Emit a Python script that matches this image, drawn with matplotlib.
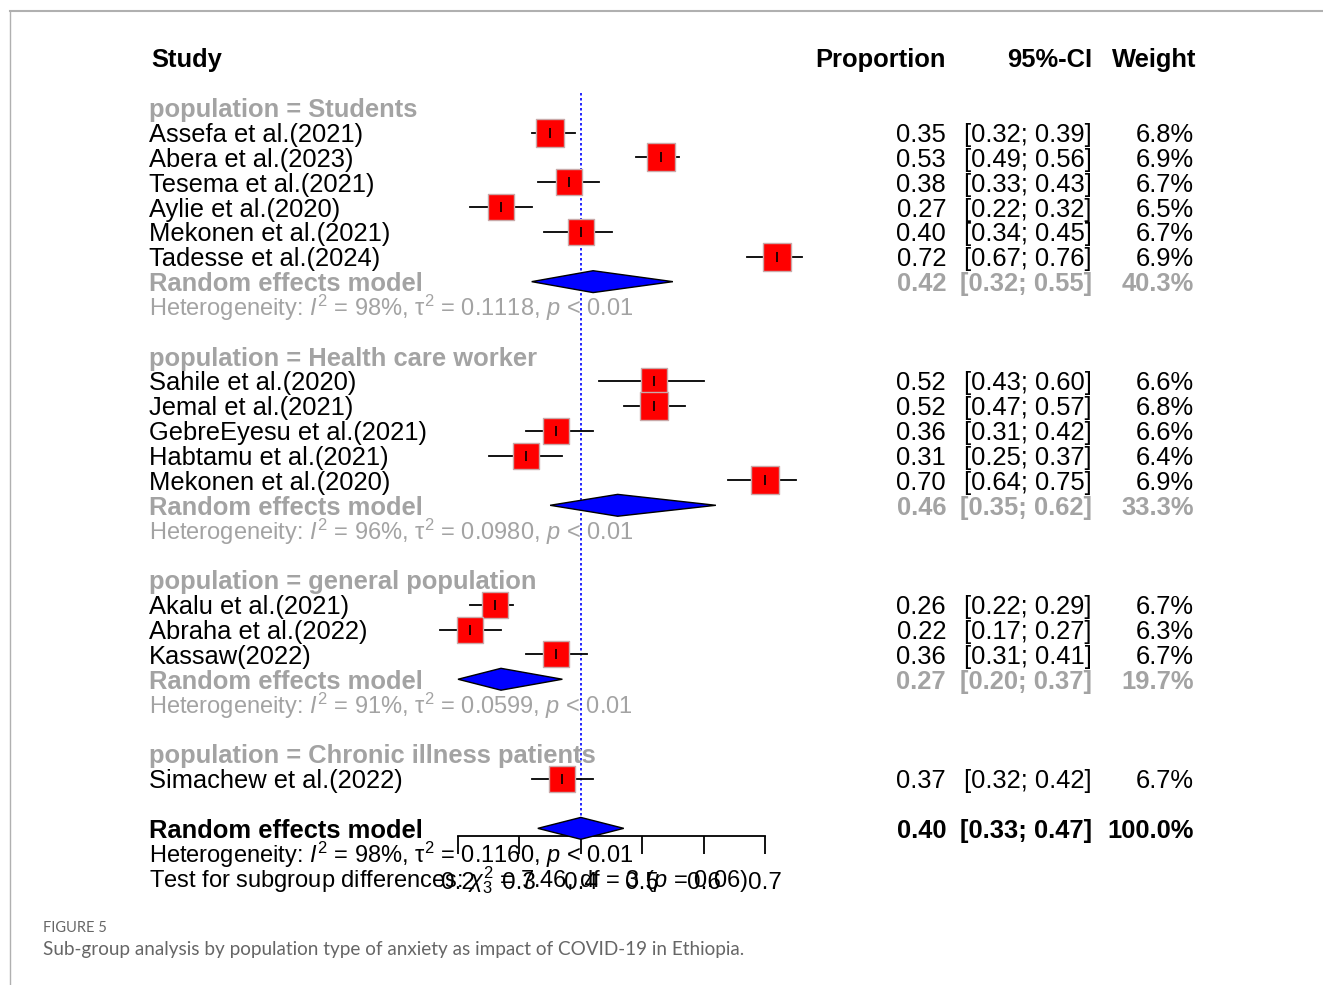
import matplotlib
matplotlib.use("Agg")
import matplotlib.pyplot as plt
from matplotlib.patches import Polygon
from matplotlib.lines import Line2D
import matplotlib.transforms as mtransforms

plt.rcParams['font.family'] = ['Liberation Sans', 'DejaVu Sans']
plt.rcParams['mathtext.fontset'] = 'custom'
plt.rcParams['mathtext.rm'] = 'Liberation Sans'
plt.rcParams['mathtext.it'] = 'Liberation Sans:italic'
plt.rcParams['mathtext.bf'] = 'Liberation Sans:bold'

# --- data ---
group_names = ["Students", "Health care worker", "general population",
               "Chronic illness patients"]

study = ["Assefa et al.(2021)", "Abera et al.(2023)", "Tesema et al.(2021)",
         "Aylie et al.(2020)", "Mekonen et al.(2021)", "Tadesse et al.(2024)",
         "Sahile et al.(2020)", "Jemal et al.(2021)", "GebreEyesu et al.(2021)",
         "Habtamu et al.(2021)", "Mekonen et al.(2020)",
         "Akalu et al.(2021)", "Abraha et al.(2022)", "Kassaw(2022)",
         "Simachew et al.(2022)"]
study_group = [0, 0, 0, 0, 0, 0, 1, 1, 1, 1, 1, 2, 2, 2, 3]
prop = [0.35, 0.53, 0.38, 0.27, 0.40, 0.72,
        0.52, 0.52, 0.36, 0.31, 0.70,
        0.26, 0.22, 0.36,
        0.37]
ci_lo = [0.32, 0.49, 0.33, 0.22, 0.34, 0.67,
         0.43, 0.47, 0.31, 0.25, 0.64,
         0.22, 0.17, 0.31,
         0.32]
ci_hi = [0.39, 0.56, 0.43, 0.32, 0.45, 0.76,
         0.60, 0.57, 0.42, 0.37, 0.75,
         0.29, 0.27, 0.41,
         0.42]
weight = [6.8, 6.9, 6.7, 6.5, 6.7, 6.9,
          6.6, 6.8, 6.6, 6.4, 6.9,
          6.7, 6.3, 6.7,
          6.7]

# subgroup random effects (no pooled row for a single-study group)
sub_est = [0.42, 0.46, 0.27, None]
sub_lo = [0.32, 0.35, 0.20, None]
sub_hi = [0.55, 0.62, 0.37, None]
sub_w = [40.3, 33.3, 19.7, None]
sub_i2 = [98, 96, 91, None]
sub_tau2 = ["0.1118", "0.0980", "0.0599", None]

overall_est, overall_lo, overall_hi = 0.40, 0.33, 0.47
overall_i2, overall_tau2 = 98, "0.1160"
test_chi2, test_df, test_p = "7.46", 3, "0.06"

x_ticks = [0.2, 0.3, 0.4, 0.5, 0.6, 0.7]

# --- layout ---
W, H = 1323, 985
fig = plt.figure(figsize=(W / 100, H / 100), dpi=100)
row_px0, row_dy = 58.0, 24.85
top_r, bot_r = -1, 35
x0_px, x1_px = 458, 765
ax = fig.add_axes([x0_px / W, 1 - (row_px0 + row_dy * bot_r) / H,
                   (x1_px - x0_px) / W, row_dy * (bot_r - top_r) / H])
ax.set_xlim(0.2, 0.7)
ax.set_ylim(bot_r, top_r)
ax.patch.set_alpha(0)

trans = mtransforms.blended_transform_factory(fig.transFigure, ax.transData)
FS = 18.4
FS_HET = 17
GRAY = '#a3a3a3'
BASE = 0.38  # baseline offset in rows

def put(xpx, r, s, ha='left', color='black', weight='normal', size=FS):
    ax.text(xpx / W, r + BASE, s, transform=trans, ha=ha, va='baseline',
            color=color, fontweight=weight, fontsize=size, clip_on=False)

def row_values(r, est, lo, hi, w, color='black', weight='normal'):
    put(946, r, f"{est:.2f}", ha='right', color=color, weight=weight)
    put(1092, r, f"[{lo:.2f}; {hi:.2f}]", ha='right', color=color, weight=weight)
    put(1194, r, f"{w:.1f}%", ha='right', color=color, weight=weight)

def diamond(r, est, lo, hi):
    ax.add_patch(Polygon([(lo, r), (est, r - 0.44), (hi, r), (est, r + 0.44)],
                         closed=True, facecolor='#0000ff', edgecolor='black',
                         linewidth=1.0, zorder=4, clip_on=False))

# headers
put(151, 0, "Study", weight='bold')
put(946, 0, "Proportion", ha='right', weight='bold')
put(1092, 0, "95%-CI", ha='right', weight='bold')
put(1196, 0, "Weight", ha='right', weight='bold')

r = 2
for g, gname in enumerate(group_names):
    put(149, r, f"population = {gname}", color=GRAY, weight='bold')
    r += 1
    for i in range(len(study)):
        if study_group[i] != g:
            continue
        put(149, r, study[i])
        ax.plot([ci_lo[i], ci_hi[i]], [r, r], color='black', lw=1.3,
                zorder=3, clip_on=False)
        ax.scatter([prop[i]], [r], s=56 * weight[i], marker='s',
                   facecolor='#ff0000', edgecolor='#c9a9a9', linewidth=1.0,
                   zorder=4, clip_on=False)
        ax.plot([prop[i]], [r], marker='|', markersize=7, color='black',
                mew=1.2, zorder=5, clip_on=False)
        row_values(r, prop[i], ci_lo[i], ci_hi[i], weight[i])
        r += 1
    if sub_est[g] is not None:
        put(149, r, "Random effects model", color=GRAY, weight='bold')
        diamond(r, sub_est[g], sub_lo[g], sub_hi[g])
        row_values(r, sub_est[g], sub_lo[g], sub_hi[g], sub_w[g],
                   color=GRAY, weight='bold')
        r += 1
        put(149, r, "Heterogeneity: $I^2$ = %d%%, τ$^2$ = %s, $p$ < 0.01"
            % (sub_i2[g], sub_tau2[g]), color=GRAY, size=FS_HET)
        r += 1
    r += 1

# overall
put(149, r, "Random effects model", weight='bold')
diamond(r, overall_est, overall_lo, overall_hi)
row_values(r, overall_est, overall_lo, overall_hi, 100.0, weight='bold')
put(149, r + 1, "Heterogeneity: $I^2$ = %d%%, τ$^2$ = %s, $p$ < 0.01"
    % (overall_i2, overall_tau2), size=FS_HET)
put(149, r + 2, r"Test for subgroup differences: $\chi^2_%d$ = %s, df = %d ($p$ = %s)"
    % (test_df, test_chi2, test_df, test_p), size=FS_HET)

# reference line and axis
axis_r = r + 0.3
ax.vlines(overall_est, 1.4, axis_r, colors='#0000ff', linestyles=(0, (1.5, 1.5)),
          linewidth=1.2, zorder=2)
for side in ['top', 'left', 'right']:
    ax.spines[side].set_visible(False)
ax.spines['bottom'].set_position(('data', axis_r))
ax.spines['bottom'].set_bounds(0.2, 0.7)
ax.spines['bottom'].set_linewidth(1.3)
ax.set_xticks(x_ticks)
ax.set_xticklabels([f"{t:.1f}" for t in x_ticks])
ax.tick_params(axis='x', direction='out', length=13, width=1.3, pad=13,
               labelsize=17.5)
ax.set_yticks([])

# frame lines and caption
fig.add_artist(Line2D([10 / W, 1], [1 - 10.5 / H, 1 - 10.5 / H],
                      transform=fig.transFigure, color='#b0b0b0', lw=1.5))
fig.add_artist(Line2D([10 / W, 10 / W], [1 - 10.5 / H, 0],
                      transform=fig.transFigure, color='#b0b0b0', lw=1.0))
fig.text(43 / W, 1 - 928 / H, "FIGURE 5", fontsize=10.5, color='#666666',
         family=['Lato', 'DejaVu Sans'], va='center')
fig.text(43 / W, 1 - 950 / H,
         "Sub-group analysis by population type of anxiety as impact of COVID-19 in Ethiopia.",
         fontsize=13.6, color='#666666', family=['Lato', 'DejaVu Sans'], va='center')

fig.savefig("out.png", dpi=100)
